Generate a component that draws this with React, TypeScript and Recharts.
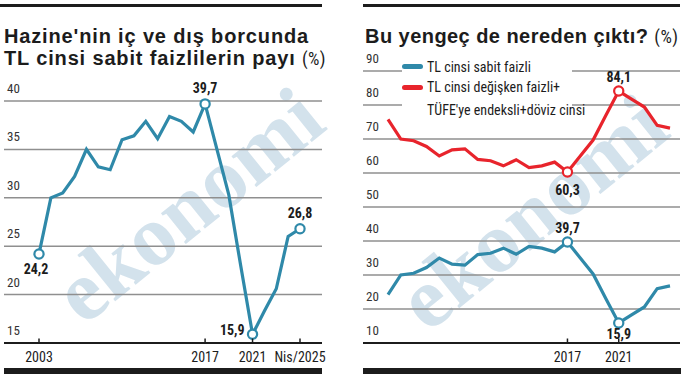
import React from "react";
import { LineChart, Line, XAxis, YAxis, CartesianGrid, LabelList } from "recharts";

// years 2003 .. Nis/2025
const years = [2003, 2004, 2005, 2006, 2007, 2008, 2009, 2010, 2011, 2012, 2013, 2014, 2015, 2016, 2017, 2018, 2019, 2020, 2021, 2022, 2023, 2024, 2025];
// TL cinsi sabit faizli
const sabit = [24.2, 30.0, 30.5, 32.2, 35.0, 33.2, 32.9, 36.0, 36.4, 37.9, 36.1, 38.4, 37.9, 36.8, 39.7, 35.0, 30.3, 23.0, 15.9, 18.3, 20.6, 26.0, 26.8];
// TL cinsi değişken faizli + TÜFE'ye endeksli + döviz cinsi
const degisken = [75.8, 70.0, 69.5, 67.8, 65.0, 66.8, 67.1, 64.0, 63.6, 62.1, 63.9, 61.6, 62.1, 63.2, 60.3, 65.0, 69.7, 77.0, 84.1, 81.7, 79.4, 74.0, 73.2];

const leftTicksY = [15, 20, 25, 30, 35, 40];
const rightTicksY = [10, 20, 30, 40, 50, 60, 70, 80, 90];
const leftTicksX = [2003, 2017, 2021, 2025];
const rightTicksX = [2017, 2021];

const data = years.map((year, i) => ({ year, sabit: sabit[i], degisken: degisken[i] }));

const BLUE = "#2f89a9";
const RED = "#e8242c";
const GRID = "#8f8f8f";
const INK = "#1c1c1c";
const NARROW = "'Liberation Sans Narrow', 'Roboto Condensed', Roboto, sans-serif";

const fmt = (v: number) => v.toFixed(1).replace(".", ",");

function YTick(props: any) {
  const { y, payload, plotLeft } = props;
  return (
    <text x={plotLeft + 3} y={y - 8} fontFamily={NARROW} fontSize={13} fill="#333" textAnchor="start">
      {payload.value}
    </text>
  );
}

function XTick(props: any) {
  const { x, y, payload } = props;
  const label = payload.value === 2025 ? "Nis/2025" : String(payload.value);
  return (
    <g>
      <line x1={x} x2={x} y1={y - 4.5} y2={y} stroke={INK} strokeWidth={1.5} />
      <text x={x} y={y + 19} fontFamily={NARROW} fontSize={14} fill={INK} textAnchor="middle">
        {label}
      </text>
    </g>
  );
}

function makeDot(color: string, marked: number[]) {
  return (p: any) => {
    if (!marked.includes(p.payload.year)) return <g key={`d${p.index}`} />;
    return <circle key={`d${p.index}`} cx={p.cx} cy={p.cy} r={4.6} fill="#fff" stroke={color} strokeWidth={2.2} />;
  };
}

// where to put each value label: year -> [dx, dy, anchor]
function makeLabel(place: Record<number, [number, number, string]>) {
  return (p: any) => {
    const year = years[p.index];
    const spot = place[year];
    if (!spot) return null;
    return (
      <text
        key={`l${p.index}`}
        x={p.x + spot[0]}
        y={p.y + spot[1]}
        textAnchor={spot[2] as any}
        fontFamily={NARROW}
        fontWeight="bold"
        fontSize={14}
        fill={INK}
      >
        {fmt(p.value)}
      </text>
    );
  };
}

function Watermark({ left, top }: { left: number; top: number }) {
  return (
    <div style={{ position: "absolute", left, top, width: 0, height: 0 }}>
      <div
        style={{
          position: "absolute",
          transform: "translate(-50%, -50%) rotate(-39deg)",
          fontFamily: "'Liberation Serif', serif",
          fontWeight: "bold",
          fontSize: 86,
          color: "#d3e2ec",
          whiteSpace: "nowrap",
          lineHeight: 1,
        }}
      >
        ekonomi
      </div>
    </div>
  );
}

const titleStyle: React.CSSProperties = {
  position: "absolute",
  fontFamily: "'Liberation Sans', Arial, sans-serif",
  fontWeight: "bold",
  fontSize: 20,
  color: INK,
  lineHeight: "22px",
  whiteSpace: "nowrap",
};

const pct: React.CSSProperties = { fontWeight: "normal", fontSize: 18, fontFamily: NARROW, letterSpacing: 0.4 };

function LeftPanel() {
  return (
    <>
      <div style={{ position: "absolute", left: 0, top: 4, width: 322, height: 3, background: INK }} />
      <div style={{ ...titleStyle, left: 4, top: 25, letterSpacing: 0.85 }}>
        Hazine'nin iç ve dış borcunda
        <br />
        TL cinsi sabit faizlilerin payı <span style={pct}>(%)</span>
      </div>
      <Watermark left={188} top={205} />
      <div style={{ position: "absolute", left: 0, top: 0 }}>
        <LineChart width={330} height={382} data={data} margin={{ top: 101, right: 8, bottom: 9, left: 3 }}>
          <CartesianGrid vertical={false} stroke={GRID} strokeWidth={1.5} />
          <XAxis
            dataKey="year"
            type="number"
            domain={[2003, 2025]}
            ticks={leftTicksX}
            padding={{ left: 35, right: 22 }}
            height={30}
            tickSize={0}
            tickMargin={0}
            tickLine={false}
            axisLine={{ stroke: INK, strokeWidth: 2.2 }}
            tick={<XTick />}
          />
          <YAxis
            type="number"
            domain={[15, 40]}
            ticks={leftTicksY}
            width={1}
            tickSize={0}
            tickMargin={0}
            tickLine={false}
            axisLine={false}
            tick={<YTick plotLeft={4} />}
          />
          <Line
            dataKey="sabit"
            stroke={BLUE}
            strokeWidth={3.2}
            dot={makeDot(BLUE, leftTicksX)}
            activeDot={false}
            isAnimationActive={false}
          >
            <LabelList
              dataKey="sabit"
              content={makeLabel({
                2003: [-3, 20, "middle"],
                2017: [0, -11, "middle"],
                2021: [-8, 1, "end"],
                2025: [0, -11, "middle"],
              })}
            />
          </Line>
        </LineChart>
      </div>
      <div style={{ position: "absolute", left: 4, top: 368, width: 318, height: 6, background: INK }} />
    </>
  );
}

function RightPanel() {
  const sw = (color: string): React.CSSProperties => ({
    position: "absolute",
    left: 0,
    width: 21,
    height: 5,
    borderRadius: 3,
    background: color,
  });
  const txt: React.CSSProperties = {
    position: "absolute",
    left: 25,
    fontFamily: NARROW,
    fontSize: 14,
    color: INK,
    whiteSpace: "nowrap",
    lineHeight: "14px",
  };
  return (
    <>
      <div style={{ position: "absolute", left: 363, top: 4, width: 317, height: 3, background: INK }} />
      <div style={{ ...titleStyle, left: 365, top: 25, letterSpacing: 0.45 }}>
        Bu yengeç de nereden çıktı? <span style={pct}>(%)</span>
      </div>
      <Watermark left={532} top={212} />
      <div style={{ position: "absolute", left: 345, top: 0 }}>
        <LineChart width={345} height={382} data={data} margin={{ top: 71, right: 10, bottom: 9, left: 17 }}>
          <CartesianGrid vertical={false} stroke={GRID} strokeWidth={1.5} />
          <XAxis
            dataKey="year"
            type="number"
            domain={[2003, 2025]}
            ticks={rightTicksX}
            padding={{ left: 25, right: 10 }}
            height={30}
            tickSize={0}
            tickMargin={0}
            tickLine={false}
            axisLine={{ stroke: INK, strokeWidth: 2.2 }}
            tick={<XTick />}
          />
          <YAxis
            type="number"
            domain={[10, 90]}
            ticks={rightTicksY}
            width={1}
            tickSize={0}
            tickMargin={0}
            tickLine={false}
            axisLine={false}
            tick={<YTick plotLeft={18} />}
          />
          <Line
            dataKey="degisken"
            stroke={RED}
            strokeWidth={3.2}
            dot={makeDot(RED, rightTicksX)}
            activeDot={false}
            isAnimationActive={false}
          >
            <LabelList
              dataKey="degisken"
              content={makeLabel({
                2017: [0, 23, "middle"],
                2021: [0, -9, "middle"],
              })}
            />
          </Line>
          <Line
            dataKey="sabit"
            stroke={BLUE}
            strokeWidth={3.2}
            dot={makeDot(BLUE, rightTicksX)}
            activeDot={false}
            isAnimationActive={false}
          >
            <LabelList
              dataKey="sabit"
              content={makeLabel({
                2017: [0, -9, "middle"],
                2021: [0, 16, "middle"],
              })}
            />
          </Line>
        </LineChart>
      </div>
      <div style={{ position: "absolute", left: 402, top: 57, width: 170, height: 60, background: "#fff" }}>
        <div style={{ ...sw(BLUE), top: 7 }} />
        <div style={{ ...txt, top: 3 }}>TL cinsi sabit faizli</div>
        <div style={{ ...sw(RED), top: 28 }} />
        <div style={{ ...txt, top: 23 }}>TL cinsi değişken faizli+</div>
        <div style={{ ...txt, top: 46 }}>TÜFE'ye endeksli+döviz cinsi</div>
      </div>
      <div style={{ position: "absolute", left: 363, top: 368, width: 318, height: 6, background: INK }} />
    </>
  );
}

export default function App() {
  return (
    <div style={{ position: "absolute", left: 0, top: 0, width: 690, height: 382, background: "#fff", overflow: "hidden" }}>
      <LeftPanel />
      <RightPanel />
    </div>
  );
}
